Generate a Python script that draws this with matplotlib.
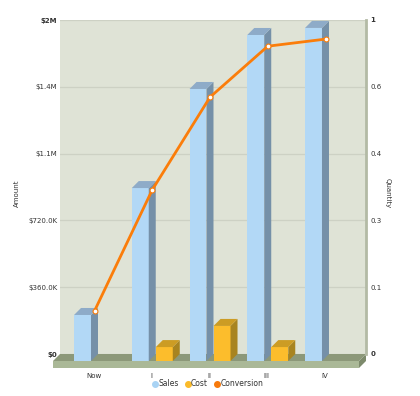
import numpy as np
import matplotlib
matplotlib.use('Agg')
import matplotlib.pyplot as plt
from matplotlib.patches import Polygon
from matplotlib.lines import Line2D
import matplotlib.transforms as mtransforms

# chart data
categories = ['Now', 'I', 'II', 'III', 'IV']
sales = [248000, 932000, 1466000, 1757000, 1795000]
cost = [0, 75000, 189000, 75000, 0]
conversion = [0.120, 0.410, 0.632, 0.754, 0.771]

amount_ticks = [0, 360000, 720000, 1080000, 1440000, 1800000]
amount_labels = ['$0', '$360.0K', '$720.0K', '$1.1M', '$1.4M', '$2M']
qty_ticks = [0, 0.16, 0.32, 0.48, 0.64, 0.8]
qty_labels = ['0', '0.1', '0.3', '0.4', '0.6', '1']

DEPTH = 7  # px, 3d offset

fig = plt.figure(figsize=(4.2, 3.96), dpi=100)
ax = fig.add_axes([60/420, 1-354/396, 306/420, 334/396])
ax2 = ax.twinx()

x = np.arange(len(categories))
ax.set_xlim(-0.719, 4.58)
ax.set_ylim(0, 1800000)
ax2.set_ylim(0, 0.8)

ax.set_facecolor('#dfe3d6')
ax2.patch.set_visible(False)
for a in (ax, ax2):
    for s in a.spines.values():
        s.set_visible(False)
ax2.spines['right'].set_visible(True)
ax2.spines['right'].set_color('#b3baa5')
ax2.spines['right'].set_linewidth(2)

ax.set_yticks(amount_ticks)
ax.set_yticklabels(amount_labels)
ax2.set_yticks(qty_ticks)
ax2.set_yticklabels(qty_labels)
ax.grid(axis='y', color='#cdd1c4', linewidth=0.9)
ax.set_axisbelow(True)
ax.tick_params(axis='y', length=0, pad=2, labelsize=5, labelcolor='#333333')
ax2.tick_params(axis='y', length=0, pad=3, labelsize=5, labelcolor='#333333')
for lab in (ax.get_yticklabels()[0], ax.get_yticklabels()[-1],
            ax2.get_yticklabels()[0], ax2.get_yticklabels()[-1]):
    lab.set_fontweight('bold')

ax.set_xticks(x)
ax.set_xticklabels(categories)
ax.tick_params(axis='x', length=0, pad=14, labelsize=5, labelcolor='#333333')
shift = mtransforms.ScaledTranslation(-0.08, 0, fig.dpi_scale_trans)
for lab in ax.get_xticklabels():
    lab.set_transform(lab.get_transform() + shift)

ident = mtransforms.IdentityTransform()


def to_px(xd, yd):
    return ax.transData.transform((xd, yd))


def box(x0, x1, h, front, side, top, z):
    # back plane is the axes, front plane shifted left and down
    bl = to_px(x0, 0)
    br = to_px(x1, 0)
    tl = to_px(x0, h)
    tr = to_px(x1, h)
    d = np.array([-DEPTH, -DEPTH])
    polys = [
        ([bl + d, br + d, tr + d, tl + d], front),
        ([tr + d, br + d, br, tr], side),
        ([tl + d, tr + d, tr, tl], top),
    ]
    for pts, c in polys:
        ax.add_patch(Polygon(pts, closed=True, facecolor=c, edgecolor='none',
                             transform=ident, clip_on=False, zorder=z))


# floor
xl, xr = ax.get_xlim()
bl = to_px(xl, 0)
br = to_px(xr, 0)
d = np.array([-DEPTH, -DEPTH])
dn = np.array([0, -DEPTH])
floor = [
    ([bl, br, br + d, bl + d], '#8c9879'),
    ([bl + d, br + d, br + d + dn, bl + d + dn], '#aab897'),
    ([br, br + dn, br + d + dn, br + d], '#7d8a6c'),
]
for pts, c in floor:
    ax.add_patch(Polygon(pts, closed=True, facecolor=c, edgecolor='none',
                         transform=ident, clip_on=False, zorder=1))

w = 0.294
off = 0.208
for i in range(len(categories)):
    if sales[i] > 0:
        box(x[i] - off - w/2, x[i] - off + w/2, sales[i],
            '#b2d8f6', '#7590a8', '#8eabc8', 2)
    if cost[i] > 0:
        box(x[i] + off - w/2, x[i] + off + w/2, cost[i],
            '#fcbd2c', '#a88420', '#cc9c24', 2)

# conversion line on the front plane
front2 = ax2.transData + mtransforms.ScaledTranslation(-DEPTH/100, -DEPTH/100, fig.dpi_scale_trans)
ax2.plot(x, conversion, color='#fb7d0a', linewidth=2, marker='o', markersize=3.5,
         markerfacecolor='white', markeredgecolor='#fb7d0a', markeredgewidth=0.8,
         transform=front2, clip_on=False, zorder=5)

fig.text(17/420, 1-193/396, 'Amount', rotation=90, ha='center', va='center',
         fontsize=5, color='#333333')
fig.text(388/420, 1-193/396, 'Quantity', rotation=270, ha='center', va='center',
         fontsize=5, color='#333333')

handles = [
    Line2D([], [], linestyle='none', marker='o', markersize=4, color='#a9d3f4', label='Sales'),
    Line2D([], [], linestyle='none', marker='o', markersize=4, color='#fbbb2a', label='Cost'),
    Line2D([], [], linestyle='none', marker='o', markersize=4, color='#f77a0c', label='Conversion'),
]
fig.legend(handles=handles, loc='center', bbox_to_anchor=(208/420, 1-384/396), ncol=3,
           frameon=False, fontsize=5.5, handlelength=0.6, handletextpad=0.1,
           columnspacing=0.9, labelcolor='#333333')

fig.savefig('out.png', dpi=100)
